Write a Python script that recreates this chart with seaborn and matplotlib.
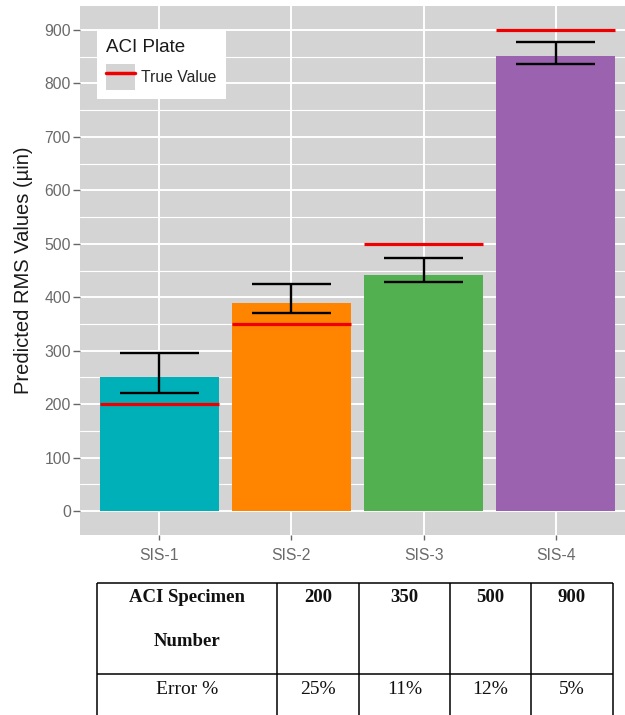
import matplotlib
matplotlib.use("Agg")
import matplotlib.pyplot as plt
from matplotlib.lines import Line2D
from matplotlib.patches import Patch
from matplotlib.ticker import MultipleLocator
import numpy as np
import pandas as pd
import seaborn as sns

# Data
specimens = ["SIS-1", "SIS-2", "SIS-3", "SIS-4"]
predicted = [250, 390, 442, 852]
lower = [221, 371, 428, 836]
upper = [295, 424, 473, 877]
true_values = [200, 350, 500, 900]
error_pct = ["25%", "11%", "12%", "5%"]
bar_colors = ["#00B0B9", "#FF8400", "#52B050", "#9B62AF"]

df = pd.DataFrame({"specimen": specimens, "predicted": predicted})

sns.set_theme(style="darkgrid")
plt.rcParams["font.family"] = ["Liberation Sans", "DejaVu Sans"]

W, H = 625, 715
fig = plt.figure(figsize=(W / 100, H / 100), dpi=100)
fig.patch.set_facecolor("white")

# Plot panel (right edge runs slightly past the figure)
ax_l, ax_r, ax_t, ax_b = 80, 635, 6, 535
ax = fig.add_axes([ax_l / W, (H - ax_b) / H, (ax_r - ax_l) / W, (ax_b - ax_t) / H])
ax.set_facecolor("#D4D4D4")

sns.barplot(data=df, x="specimen", y="predicted", hue="specimen",
            palette=bar_colors, width=0.9, saturation=1, linewidth=0,
            legend=False, errorbar=None, ax=ax, zorder=3)

xpos = np.arange(len(specimens))

# Error bars
ax.vlines(xpos, lower, upper, color="black", lw=1.7, zorder=4)
ax.hlines(lower, xpos - 0.3, xpos + 0.3, color="black", lw=1.7, zorder=4)
ax.hlines(upper, xpos - 0.3, xpos + 0.3, color="black", lw=1.7, zorder=4)

# True value markers
ax.hlines(true_values, xpos - 0.45, xpos + 0.45, color="#EE0000", lw=2.3, zorder=5)

ax.set_xlim(-0.6, len(specimens) - 0.4)
ax.set_ylim(-45, 945)
ax.yaxis.set_major_locator(MultipleLocator(100))
ax.yaxis.set_minor_locator(MultipleLocator(50))

ax.grid(False)
ax.yaxis.grid(True, which="major", color="white", lw=1.4, zorder=0)
ax.yaxis.grid(True, which="minor", color="white", lw=0.8, zorder=0)
ax.xaxis.grid(True, which="major", color="white", lw=1.4, zorder=0)
ax.set_axisbelow(True)

for s in ax.spines.values():
    s.set_visible(False)

ax.tick_params(axis="y", which="major", length=5, width=1, color="#666666",
               labelcolor="#6a6a6a", labelsize=11.3, pad=1.5, left=True)
ax.tick_params(axis="x", which="major", length=3.6, width=1, color="#666666",
               labelcolor="#6a6a6a", labelsize=11.3, pad=5.5, bottom=True)
ax.tick_params(axis="both", which="minor", length=0)

ax.set_xlabel("")
ax.set_ylabel("Predicted RMS Values (\u00b5in)", fontsize=14.5, color="#1a1a1a", labelpad=8)

# Legend
handle = (Patch(facecolor="#D4D4D4", edgecolor="none"), Line2D([], [], color="#EE0000", lw=2.5))
leg = ax.legend([handle], ["True Value"], title="ACI Plate", loc="upper left",
                bbox_to_anchor=((97 - ax_l) / (ax_r - ax_l), (ax_b - 30) / (ax_b - ax_t)),
                borderaxespad=0, fontsize=11.3, title_fontsize=13.5, frameon=True,
                fancybox=False, facecolor="white", edgecolor="none", framealpha=1,
                handlelength=1.8, handleheight=2.1, handletextpad=0.4, borderpad=0.6,
                alignment="left")
leg.get_title().set_color("#1a1a1a")

# Table beneath the plot
tab_top = 575
tax = fig.add_axes([0, 0, 1, (H - tab_top) / H])
tax.set_xlim(0, W)
tax.set_ylim(H, tab_top)
tax.axis("off")

col_edges = [97, 277, 359, 450, 531, 613]
row_top, row_mid = 583, 674
tax.hlines([row_top, row_mid], col_edges[0], col_edges[-1], color="black", lw=1.1)
tax.vlines(col_edges, row_top, H + 5, color="black", lw=1.1)

serif = ["Liberation Serif", "DejaVu Serif"]
centers = [(col_edges[i] + col_edges[i + 1]) / 2 for i in range(len(col_edges) - 1)]
tax.text(centers[0], 597, "ACI Specimen", ha="center", va="center",
         fontsize=13.5, fontweight="bold", family=serif, color="#111111")
tax.text(centers[0], 642, "Number", ha="center", va="center",
         fontsize=13.5, fontweight="bold", family=serif, color="#111111")
tax.text(centers[0], 689, "Error %", ha="center", va="center",
         fontsize=14, family=serif, color="#111111")
for c, tv, ep in zip(centers[1:], true_values, error_pct):
    tax.text(c, 597, f"{tv}", ha="center", va="center",
             fontsize=13.5, fontweight="bold", family=serif, color="#111111")
    tax.text(c, 689, ep, ha="center", va="center",
             fontsize=14, family=serif, color="#111111")

fig.savefig("out.png", dpi=100)
